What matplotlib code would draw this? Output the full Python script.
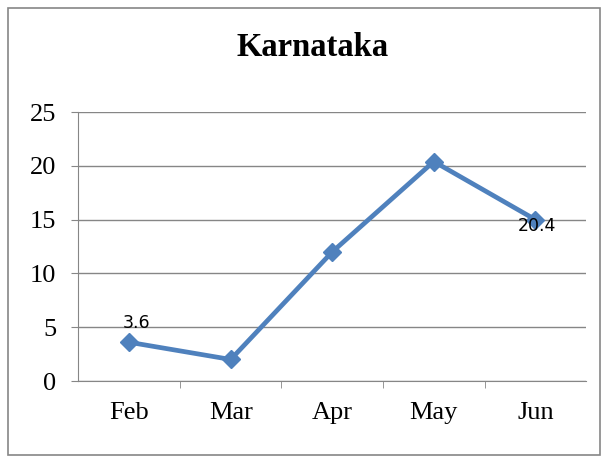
import matplotlib.pyplot as plt
from matplotlib.patches import Rectangle

# Data
months = ['Feb', 'Mar', 'Apr', 'May', 'Jun']
values = [3.6, 2.0, 12.0, 20.4, 15.0]
# data labels as they appear on the chart (index of point, text)
label_idx = [0, 4]
label_txt = ['3.6', '20.4']

fig = plt.figure(figsize=(6.03, 4.57), dpi=100)
fig.patches.append(Rectangle((8 / 603, 2 / 457), 592 / 603, 447 / 457,
                             transform=fig.transFigure, fill=False,
                             edgecolor='#868686', linewidth=1.2))

ax = fig.add_axes([0.130, 0.1663, 0.842, 0.5886])
x = list(range(len(months)))
ax.plot(x, values, color='#4F81BD', linewidth=3.4, marker='D',
        markersize=9.5, zorder=3)

ax.set_xlim(-0.5, len(months) - 0.5)
ax.set_ylim(0, 25)
ax.set_yticks([0, 5, 10, 15, 20, 25])
ax.set_xticks(x)
ax.set_xticklabels(months)
ax.set_xticks([i + 0.5 for i in x[:-1]], minor=True)
ax.grid(axis='y', color='#868686', linewidth=1)
ax.set_axisbelow(True)

for s in ['top', 'right']:
    ax.spines[s].set_visible(False)
for s in ['left', 'bottom']:
    ax.spines[s].set_color('#868686')
ax.tick_params(axis='x', which='major', length=0, pad=15)
ax.tick_params(axis='x', which='minor', length=5, color='#868686')
ax.tick_params(axis='y', length=5, color='#868686', pad=11)
for lab in ax.get_xticklabels() + ax.get_yticklabels():
    lab.set_fontfamily('Liberation Serif')
    lab.set_fontsize(19)

ax.annotate(label_txt[0], (label_idx[0], values[label_idx[0]]),
            xytext=(5, 10), textcoords='offset points', ha='center',
            fontsize=12.5, family='DejaVu Sans')
ax.annotate(label_txt[1], (label_idx[1], values[label_idx[1]]),
            xytext=(1, -8), textcoords='offset points', ha='center',
            fontsize=12.5, family='DejaVu Sans')

fig.text(0.518, 0.897, 'Karnataka', ha='center', va='center',
         fontsize=23.5, fontweight='bold', family='Liberation Serif')

fig.savefig('out.png', dpi=100)
